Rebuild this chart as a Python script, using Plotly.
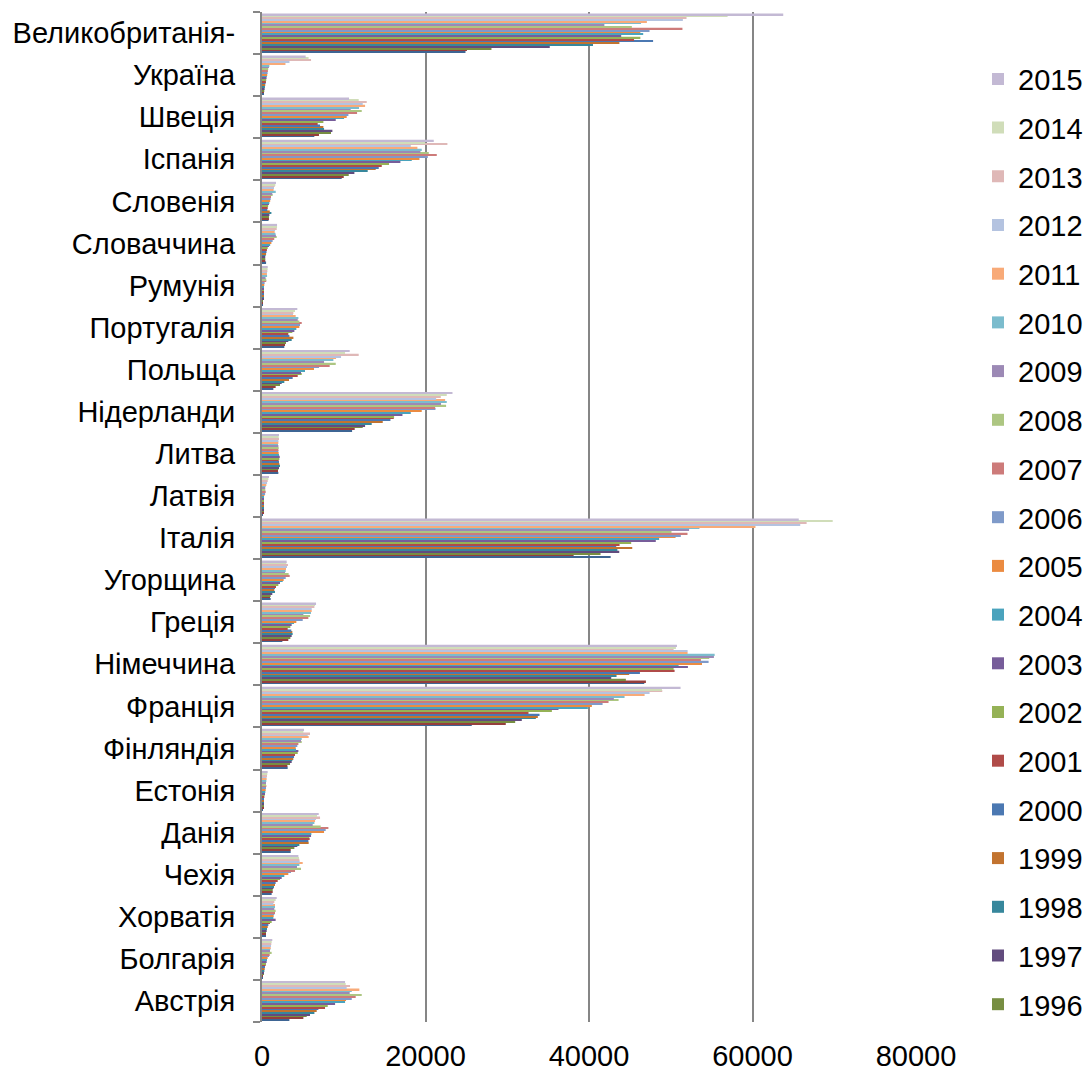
import plotly.graph_objects as go

# Years, newest first; each country list below follows this order
years = [2015, 2014, 2013, 2012, 2011, 2010, 2009, 2008, 2007, 2006, 2005,
         2004, 2003, 2002, 2001, 2000, 1999, 1998, 1997, 1996, 1995, 1994]

# Categories from bottom to top of the chart
countries = ["Австрія", "Болгарія", "Хорватія", "Чехія", "Данія", "Естонія",
             "Фінляндія", "Франція", "Німеччина", "Греція", "Угорщина", "Італія",
             "Латвія", "Литва", "Нідерланди", "Польща", "Португалія", "Румунія",
             "Словаччина", "Словенія", "Іспанія", "Швеція", "Україна",
             "Великобританія-"]

austria = [10160, 10240, 10770, 10360, 11910, 10980, 10730, 12200, 11460, 10980, 10280,
           10160, 8940, 8040, 7710, 6900, 6690, 6410, 5870, 5470, 5060, 3350]
bulgaria = [1260, 1180, 1140, 1100, 1060, 1020, 980, 1180, 940, 860, 690,
            610, 570, 490, 450, 370, 330, 290, 240, 160, 80, 40]
croatia = [1800, 1670, 1510, 1390, 1590, 1590, 1510, 1670, 1590, 1510, 1430,
           1390, 1670, 1180, 980, 780, 700, 610, 570, 490, 490, 490]
czechia = [4450, 4530, 4570, 4610, 4980, 4570, 4280, 4770, 4040, 3550, 3220,
           2730, 2410, 2200, 1920, 1670, 1590, 1470, 1390, 1310, 1310, 1180]
denmark = [6940, 6730, 7100, 6610, 6490, 6410, 6200, 7180, 8120, 7790, 7590,
           6040, 6000, 5790, 5830, 5670, 5710, 4570, 4320, 3960, 3510, 3510]
estonia = [690, 650, 610, 570, 570, 530, 490, 490, 530, 490, 450,
           410, 370, 330, 290, 240, 200, 200, 160, 160, 160, 120]
finland = [5140, 5060, 5870, 5590, 5710, 4860, 4770, 4860, 4450, 4320, 4120,
           4160, 4450, 4370, 4040, 3920, 3830, 3710, 3630, 3430, 3100, 3140]
france = [51200, 48920, 48960, 47410, 46800, 44350, 43040, 43620, 42390, 41660, 40350,
          39860, 36270, 35460, 32600, 33950, 33740, 33500, 31780, 30970, 29820, 25660]
germany = [50760, 50630, 50350, 52060, 52060, 55370, 55280, 54710, 53690, 54630, 53820,
           50960, 52100, 50350, 50470, 46230, 44920, 43370, 42720, 44510, 46960, 46760]
greece = [6610, 6490, 6410, 6080, 6080, 5990, 5060, 5880, 5670, 4980, 4200,
          3920, 3630, 3470, 3140, 3590, 3710, 3750, 3630, 3470, 3220, 2490]
hungary = [3020, 2980, 3180, 3060, 2940, 2900, 2820, 3260, 3390, 2900, 2650,
           2530, 2200, 2000, 1710, 1590, 1510, 1590, 1260, 1060, 980, 1060]
italy = [65660, 69810, 66620, 65840, 60360, 53510, 52240, 50090, 52050, 51230, 50590,
         48580, 48170, 45160, 43740, 43330, 45290, 43470, 43700, 41410, 38120, 42650]
latvia = [860, 780, 700, 620, 530, 450, 400, 400, 450, 380, 300,
          250, 200, 200, 170, 170, 130, 130, 160, 130, 130, 120]
lithuania = [2080, 2040, 2080, 2000, 2000, 1960, 2000, 2040, 2000, 2000, 2040,
             2080, 2170, 2120, 2040, 2080, 2120, 2200, 2080, 2000, 1960, 2000]
netherlands = [23300, 22600, 21870, 21300, 22400, 22600, 21900, 22520, 21180, 21220, 19540,
               18200, 17180, 16160, 16120, 15710, 14770, 13420, 12610, 12320, 11340, 11020]
poland = [10730, 10160, 11830, 9670, 9060, 8730, 7590, 9020, 8280, 6980, 6360,
          5260, 4770, 4860, 4370, 3750, 3300, 2730, 2410, 2200, 1670, 1390]
portugal = [4320, 4040, 3840, 3790, 4120, 4450, 4370, 4570, 4860, 4650, 4570,
            4200, 3960, 3710, 3220, 3350, 3840, 3630, 3220, 2940, 2820, 2730]
romania = [700, 680, 650, 620, 600, 620, 430, 520, 520, 320, 280,
           240, 200, 200, 180, 180, 160, 150, 140, 120, 100, 90]
slovakia = [1840, 1840, 1800, 1600, 1550, 1650, 1700, 1800, 1500, 1300, 1150,
            1000, 850, 700, 600, 550, 500, 450, 400, 400, 400, 500]
slovenia = [1710, 1630, 1550, 1470, 1420, 1680, 1260, 1300, 1100, 1060, 1000,
            900, 850, 750, 700, 650, 950, 1150, 900, 850, 850, 800]
spain = [21010, 19950, 22680, 18200, 19010, 19540, 19380, 20400, 21380, 20280, 19260,
         18320, 16930, 15540, 14650, 14280, 13910, 12930, 11300, 10610, 10000, 9750]
sweden = [10650, 11830, 12810, 12320, 12610, 11870, 10850, 12200, 11630, 10570, 10360,
          10040, 9020, 7510, 6810, 7100, 7510, 7590, 8610, 8440, 6970, 6400]
ukraine = [5340, 5700, 6000, 3360, 2870, 900, 850, 760, 720, 680, 640,
           600, 560, 520, 480, 440, 400, 360, 320, 280, 240, 200]
uk = [63760, 56950, 51930, 51480, 47080, 46370, 41880, 45240, 51430, 47400, 46280,
      46630, 43940, 46280, 45510, 47840, 43720, 40490, 35200, 28070, 25070, 24890]

series_by_country = [austria, bulgaria, croatia, czechia, denmark, estonia, finland,
                     france, germany, greece, hungary, italy, latvia, lithuania,
                     netherlands, poland, portugal, romania, slovakia, slovenia,
                     spain, sweden, ukraine, uk]

# Office-style palette: darker, normal, lighter and lightest accent variants
colors = {
    1994: "#3E6594", 1995: "#963E3C", 1996: "#778E42", 1997: "#624C7E",
    1998: "#37879C", 1999: "#C2732F", 2000: "#4B78B2", 2001: "#B04B48",
    2002: "#95B256", 2003: "#775D9A", 2004: "#4AA3BD", 2005: "#EB8B41",
    2006: "#7F9AC9", 2007: "#CD7B7A", 2008: "#ADC682", 2009: "#9C89B5",
    2010: "#7BBCCD", 2011: "#F8AA78", 2012: "#B4C3E0", 2013: "#DFB8B7",
    2014: "#D0DDB9", 2015: "#C3B9D4",
}

FONT = "Liberation Sans, Arial, sans-serif"
FS = 29
GRID = "#868686"

fig = go.Figure()
# Oldest year first so it sits at the bottom of each group
for i in reversed(range(len(years))):
    yr = years[i]
    fig.add_trace(go.Bar(
        orientation="h",
        y=countries,
        x=[vals[i] for vals in series_by_country],
        name=str(yr),
        legendgroup=str(yr),
        legendrank=i + 1,          # newest year listed first
        showlegend=yr >= 1996,
        marker=dict(color=colors[yr], line=dict(width=0)),
    ))

fig.update_layout(
    width=1088, height=1073,
    margin=dict(l=262, r=172, t=12, b=51, pad=0, autoexpand=False),
    paper_bgcolor="white", plot_bgcolor="white",
    barmode="group", bargap=0.064, bargroupgap=0.12,
    font=dict(family=FONT, size=FS, color="black"),
    legend=dict(
        traceorder="grouped",
        tracegroupgap=8,
        xref="container", yref="container",
        x=0.8989, xanchor="left",
        y=0.9501, yanchor="top",
        maxheight=1050,
        font=dict(family=FONT, size=FS, color="black"),
        itemclick=False,
    ),
    xaxis=dict(
        range=[0, 80000],
        tickvals=[0, 20000, 40000, 60000, 80000],
        ticktext=["0", "20000", "40000", "60000", "80000"],
        showgrid=True, gridcolor=GRID, gridwidth=1.5,
        zeroline=False, showline=False, ticks="",
        ticklabelstandoff=14,
        tickfont=dict(family=FONT, size=FS, color="black"),
    ),
    yaxis=dict(
        type="category",
        categoryorder="array", categoryarray=countries,
        showline=True, linecolor=GRID, linewidth=2,
        ticks="outside", tickson="boundaries", ticklen=7,
        tickcolor=GRID, tickwidth=2,
        showgrid=False, zeroline=False,
        ticklabelstandoff=19,
        tickfont=dict(family=FONT, size=FS, color="black"),
    ),
)

fig.write_html("out.html")
